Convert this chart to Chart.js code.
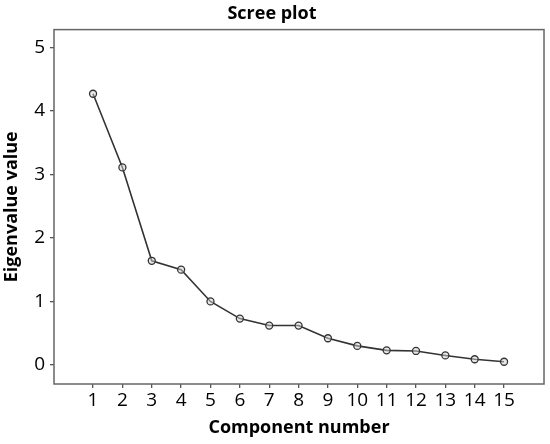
<!DOCTYPE html>
<html>
<head>
<meta charset="utf-8">
<script src="https://cdn.jsdelivr.net/npm/chart.js@4"></script>
<style>
  html, body { margin: 0; padding: 0; background: #fff; }
  #wrap { width: 550px; height: 444px; }
</style>
</head>
<body>
<div id="wrap"><canvas id="scree"></canvas></div>
<script>
const components = [1, 2, 3, 4, 5, 6, 7, 8, 9, 10, 11, 12, 13, 14, 15];
const eigenvalues = [4.27, 3.11, 1.64, 1.50, 1.00, 0.73, 0.62, 0.62, 0.42, 0.30, 0.23, 0.22, 0.15, 0.09, 0.05];
const yTicks = [0, 1, 2, 3, 4, 5];

// box around the plot area
const frame = {
    id: 'frame',
    afterDraw(chart) {
        const a = chart.chartArea;
        const ctx = chart.ctx;
        ctx.save();
        ctx.strokeStyle = '#666';
        ctx.lineWidth = 1.5;
        ctx.strokeRect(a.left, a.top, a.right - a.left, a.bottom - a.top);
        ctx.restore();
    }
};

Chart.defaults.font.family = '"Open Sans", sans-serif';
Chart.defaults.color = '#000';

new Chart(document.getElementById('scree'), {
    type: 'line',
    data: {
        datasets: [{
            label: 'Eigenvalue',
            data: components.map((c, i) => ({ x: c, y: eigenvalues[i] })),
            borderColor: '#333',
            borderWidth: 1.6,
            pointRadius: 3.5,
            pointBorderWidth: 1.3,
            pointBorderColor: '#333',
            pointBackgroundColor: 'rgba(210,210,210,0.5)',
            tension: 0
        }]
    },
    options: {
        responsive: true,
        maintainAspectRatio: false,
        animation: false,
        layout: { padding: { left: 0, right: 6, top: 0, bottom: 0 } },
        plugins: {
            legend: { display: false },
            tooltip: { enabled: false },
            title: {
                display: true,
                text: 'Scree plot',
                font: { size: 18, weight: 'bold' },
                padding: { top: 3, bottom: 5 }
            }
        },
        scales: {
            x: {
                type: 'linear',
                min: -0.33,
                max: 16.36,
                afterBuildTicks: axis => { axis.ticks = components.map(v => ({ value: v })); },
                afterFit: axis => { axis.height = 60; },
                grid: { display: true, drawOnChartArea: false, tickLength: 4, color: '#555', lineWidth: 1.3 },
                border: { display: false },
                ticks: { font: { size: 19 }, padding: 1, maxRotation: 0, autoSkip: false },
                title: {
                    display: true,
                    text: 'Component number',
                    font: { size: 18, weight: 'bold' },
                    padding: { top: 0, bottom: 5 }
                }
            },
            y: {
                min: -0.3,
                max: 5.28,
                afterBuildTicks: axis => { axis.ticks = yTicks.map(v => ({ value: v })); },
                afterFit: axis => { axis.width = 54; },
                grid: { display: true, drawOnChartArea: false, tickLength: 4, color: '#555', lineWidth: 1.3 },
                border: { display: false },
                ticks: { font: { size: 19 }, padding: 5 },
                title: {
                    display: true,
                    text: 'Eigenvalue value',
                    font: { size: 18, weight: 'bold' },
                    padding: { top: 1, bottom: 0 }
                }
            }
        }
    },
    plugins: [frame]
});
</script>
</body>
</html>
